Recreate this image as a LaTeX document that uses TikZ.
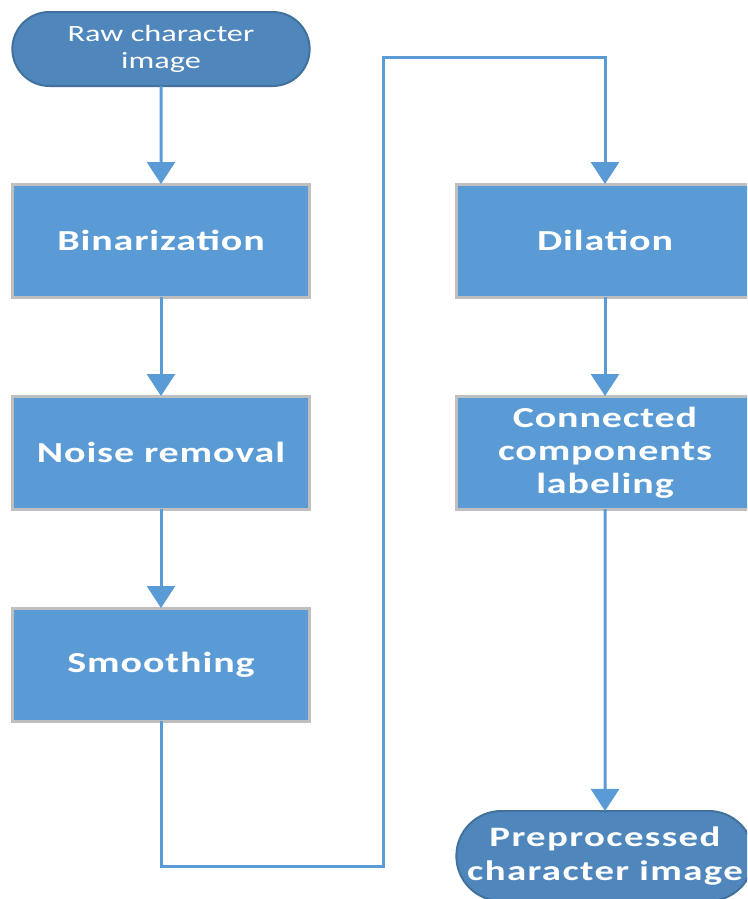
\documentclass[tikz,border=0pt]{standalone}
\usepackage{fontspec}
\setmainfont{Carlito}[FakeStretch=1.38]
\usepackage{tikz}
\usetikzlibrary{positioning,shapes.misc,arrows.meta}

\definecolor{boxblue}{HTML}{5B9BD5}
\definecolor{termblue}{HTML}{4F87BC}
\definecolor{termedge}{HTML}{41719C}
\definecolor{boxedge}{HTML}{BFBFBF}

\tikzset{
  process/.style={draw=boxedge, line width=0.06cm, fill=boxblue, rectangle, outer sep=0pt,
    minimum width=5.94cm, minimum height=2.26cm, align=center,
    text=white, font=\fontsize{16.5}{19}\selectfont\bfseries\addfontfeature{LetterSpace=3}},
  terminal/.style={draw=termedge, line width=0.04cm, fill=termblue, rounded rectangle, outer sep=0pt,
    minimum width=6.18cm, align=center, text=white},
  flow/.style={draw=boxblue, line width=0.06cm, -{Triangle[width=0.56cm,length=0.44cm]}}
}

\begin{document}
\begin{tikzpicture}
    \clip (0,0) rectangle (14.94,-17.98);
        \node (raw) [terminal, minimum height=1.48cm, font=\fontsize{13.3}{15.5}\selectfont] at (3.22,-0.98) {Raw character\\image};
        \node (binar) [process, below=1.96cm of raw] {Binarization};
        \node (noise) [process, below=1.98cm of binar] {Noise removal};
        \node (smooth) [process, below=1.98cm of noise] {Smoothing};
        \node (dilate) [process, right=2.94cm of binar] {Dilation};
        \node (label) [process, below=1.98cm of dilate, font=\fontsize{16.5}{18.8}\selectfont\bfseries\addfontfeature{LetterSpace=3}] {Connected\\components\\labeling};
        \node (result) [terminal, minimum height=1.8cm, below=6.04cm of label, font=\fontsize{16}{19}\selectfont\bfseries\addfontfeature{LetterSpace=5}] {Preprocessed\\character image};

        \coordinate (low) at (7.66,-17.32);
        \coordinate (high) at (7.66,-1.14);

        \draw[flow] (raw) -- (binar);
        \draw[flow] (binar) -- (noise);
        \draw[flow] (noise) -- (smooth);
        \draw[flow] (smooth.south) |- (low) -- (high) -| (dilate.north);
        \draw[flow] (dilate) -- (label);
        \draw[flow] (label) -- (result);
    \end{tikzpicture}
\end{document}
